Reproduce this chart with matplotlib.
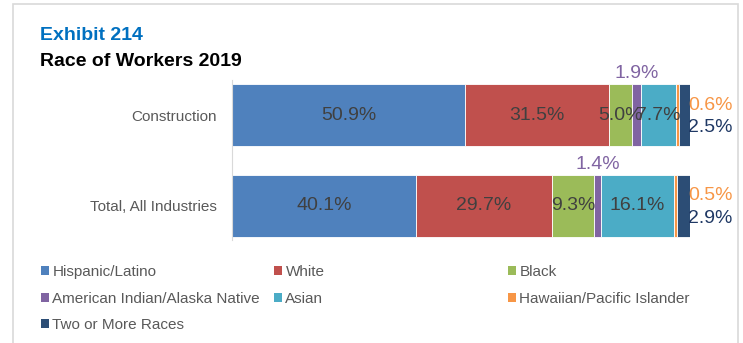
import matplotlib.pyplot as plt
from matplotlib.patches import Rectangle, Patch

plt.rcParams['font.family'] = ['Liberation Sans', 'DejaVu Sans']

# -----------------------------
# DATA
# -----------------------------
categories = ["Total, All Industries", "Construction"]
groups = ["Hispanic/Latino", "White", "Black", "American Indian/Alaska Native",
          "Asian", "Hawaiian/Pacific Islander", "Two or More Races"]
construction = [50.9, 31.5, 5.0, 1.9, 7.7, 0.6, 2.5]
total_all = [40.1, 29.7, 9.3, 1.4, 16.1, 0.5, 2.9]
colors = ["#4F81BD", "#C0504D", "#9BBB59", "#8064A2", "#4BACC6", "#F79646", "#2C4D75"]

values = [total_all, construction]

W, H = 743, 343
fig = plt.figure(figsize=(W / 100, H / 100), dpi=100)

# outer frame
fig.patches.append(Rectangle((13 / W, -0.1), 725 / W, 1 - 4 / H + 0.1,
                             transform=fig.transFigure, fill=False,
                             edgecolor="#D9D9D9", linewidth=1.2))

fig.text(40 / W, 1 - 36 / H, "Exhibit 214", color="#0070C0", fontsize=14,
         fontweight="bold", va="center", ha="left")
fig.text(40 / W, 1 - 61 / H, "Race of Workers 2019", color="black", fontsize=14,
         fontweight="bold", va="center", ha="left")

ax = fig.add_axes([232 / W, 1 - 240 / H, 458 / W, 160 / H])
ax.set_xlim(0, 100)
ax.set_ylim(-0.374, 1.385)

bar_h = 0.68
for yi, row in enumerate(values):
    left = 0
    for j, v in enumerate(row):
        ax.barh(yi, v, left=left, height=bar_h, color=colors[j],
                edgecolor="white", linewidth=0.6)
        c = left + v / 2
        if j in (0, 1, 2, 4):
            ax.text(c, yi, f"{v:.1f}%", ha="center", va="center",
                    fontsize=14, color="#404040")
        elif j == 3:
            ax.text(c, yi + bar_h / 2 + 0.02, f"{v:.1f}%", ha="center",
                    va="bottom", fontsize=14, color="#8064A2")
        left += v
    # small segments labelled outside the bar
    ax.text(99.6, yi + 0.11, f"{row[5]:.1f}%", ha="left", va="center",
            fontsize=14, color="#F79646")
    ax.text(99.6, yi - 0.14, f"{row[6]:.1f}%", ha="left", va="center",
            fontsize=14, color="#1F3864")

ax.set_yticks(range(len(categories)))
ax.set_yticklabels(categories, fontsize=11, color="#595959")
ax.tick_params(axis="y", length=0, pad=11)
ax.set_xticks([])
for s in ["top", "right", "bottom"]:
    ax.spines[s].set_visible(False)
ax.spines["left"].set_color("#D9D9D9")

# legend in three columns
handles = [Patch(facecolor=c, edgecolor="none") for c in colors]
cols = [[0, 3, 6], [1, 4], [2, 5]]
col_x = [41, 274, 508]
for cx, idx in zip(col_x, cols):
    leg = fig.legend([handles[i] for i in idx], [groups[i] for i in idx],
                     loc="upper left", bbox_to_anchor=(cx / W, 1 - 265 / H),
                     frameon=False, fontsize=11, handlelength=0.55,
                     handleheight=0.55, handletextpad=0.2, labelspacing=0.82,
                     borderpad=0, borderaxespad=0)
    for t in leg.get_texts():
        t.set_color("#595959")

fig.savefig("out.png", dpi=100)
